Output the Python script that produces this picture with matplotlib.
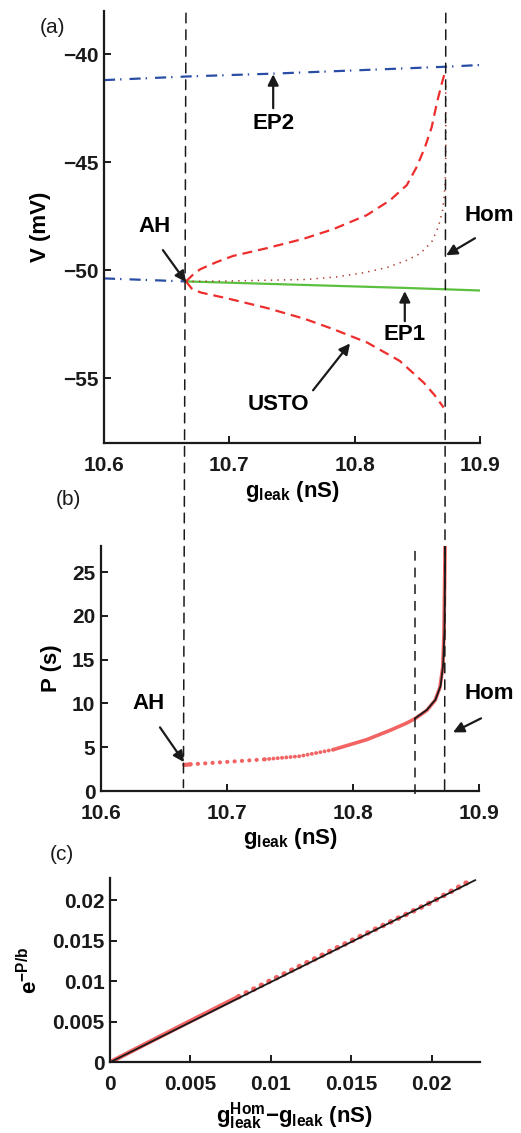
import matplotlib
matplotlib.use('Agg')
import matplotlib.pyplot as plt
from matplotlib.patches import ConnectionPatch

plt.rcParams['font.family'] = ['Liberation Sans', 'DejaVu Sans']
plt.rcParams['font.weight'] = 'bold'
plt.rcParams['mathtext.fontset'] = 'custom'
plt.rcParams['mathtext.rm'] = 'Liberation Sans:bold'
plt.rcParams['mathtext.it'] = 'Liberation Sans:bold'
plt.rcParams['mathtext.bf'] = 'Liberation Sans:bold'
plt.rcParams['lines.scale_dashes'] = False

# bifurcation values (nS)
g_ah = 10.6654
g_hom = 10.8727
g_fit = 10.849

# panel (a): branches of the bifurcation diagram
ep2_g = [10.60, 10.667, 10.735, 10.80, 10.873, 10.90]
ep2_v = [-41.2, -41.03, -40.9, -40.75, -40.58, -40.5]

ep_low_g = [10.60, 10.6654]
ep_low_v = [-50.38, -50.52]

ep1_g = [10.6654, 10.84, 10.90]
ep1_v = [-50.52, -50.82, -50.94]

usto_up_g = [10.6654, 10.672, 10.677, 10.690, 10.703, 10.730, 10.759,
             10.783, 10.8097, 10.8283, 10.8416, 10.8495, 10.8562, 10.8615,
             10.8655, 10.8695, 10.8714]
usto_up_v = [-50.52, -50.15, -49.95, -49.62, -49.34, -48.98, -48.55,
             -48.1, -47.45, -46.76, -46.06, -45.22, -44.29, -43.37,
             -42.28, -41.36, -40.97]

usto_lo_g = [10.6654, 10.670, 10.677, 10.698, 10.730, 10.760, 10.783,
             10.810, 10.836, 10.855, 10.864, 10.871]
usto_lo_v = [-50.52, -50.85, -51.03, -51.30, -51.75, -52.25, -52.73,
             -53.35, -54.2, -55.2, -55.8, -56.36]

mean_g = [10.6654, 10.70, 10.7604, 10.7857, 10.807, 10.8256, 10.8416,
          10.8522, 10.8615, 10.8668, 10.8702, 10.8721, 10.8727, 10.8727]
mean_v = [-50.52, -50.5, -50.43, -50.31, -50.12, -49.88, -49.54,
          -49.23, -48.69, -47.99, -47.22, -46.14, -45.0, -41.44]

# panel (b): period of the oscillation
per_g_start = [10.6659, 10.6675, 10.671]
per_p_start = [3.0, 3.0, 3.05]
per_g_sparse = [10.671, 10.70, 10.73]
per_p_sparse = [3.05, 3.33, 3.62]
per_g_dense = [10.73, 10.7579, 10.7844]
per_p_dense = [3.62, 3.98, 4.73]
per_g_end = [10.7844, 10.8109, 10.8294, 10.8426, 10.8492, 10.8585, 10.8651,
             10.869, 10.8712, 10.8722, 10.8728, 10.873]
per_p_end = [4.73, 5.87, 6.93, 7.76, 8.26, 9.2, 10.34,
             11.85, 14.1, 17.9, 24.7, 27.95]

fit_g = [10.8492, 10.8585, 10.8655, 10.8695, 10.8716, 10.8726, 10.8730,
         10.8731]
fit_p = [8.3, 9.25, 10.45, 12.0, 14.5, 18.5, 24.5, 28.0]

# panel (c): linearised period
c_dense_x = [0.0, 0.002, 0.005, 0.008]
c_dense_y = [0.0, 0.00205, 0.0051, 0.0081]
c_dot_x = [0.008, 0.01, 0.015, 0.02, 0.0222]
c_dot_y = [0.0081, 0.0101, 0.0150, 0.0198, 0.0222]
c_fit_x = [0.0, 0.0227]
c_fit_y = [0.0, 0.0225]

blue = '#2a4ea6'
red = '#ee2d2d'
green = '#5bbf3f'
brown = '#a83a2e'
pink = '#f26464'

dash_black = (0, (7, 5))
arrow = dict(arrowstyle='-|>', color='#1a1a1a', lw=1.6,
             mutation_scale=16, shrinkA=0, shrinkB=0)
fs = 15


def style_axes(ax):
    for s in ['top', 'right']:
        ax.spines[s].set_visible(False)
    for s in ['left', 'bottom']:
        ax.spines[s].set_linewidth(1.6)
        ax.spines[s].set_color('#1a1a1a')
    ax.tick_params(direction='in', length=5, width=1.4, labelsize=fs,
                   colors='#1a1a1a')
    ax.tick_params(axis='x', pad=9)
    ax.tick_params(axis='y', pad=4)
    for lab in ax.get_xticklabels() + ax.get_yticklabels():
        lab.set_fontweight('bold')


fig = plt.figure(figsize=(5.21, 11.33), dpi=100)
ax_a = fig.add_axes([0.1996, 0.6090, 0.7217, 0.3813])
ax_b = fig.add_axes([0.1939, 0.3018, 0.7255, 0.2165])
ax_c = fig.add_axes([0.2111, 0.0624, 0.7102, 0.1629])

# ----- (a)
ax_a.plot(ep2_g, ep2_v, color=blue, lw=1.6, ls=(0, (8, 3.6, 1, 5.8)))
ax_a.plot(ep_low_g, ep_low_v, color=blue, lw=1.6, ls=(0, (8, 3.6, 1, 5.8)))
ax_a.plot(ep1_g, ep1_v, color=green, lw=1.6)
ax_a.plot(usto_up_g, usto_up_v, color=red, lw=1.6, ls=(0, (7.2, 4.3)))
ax_a.plot(usto_lo_g, usto_lo_v, color=red, lw=1.6, ls=(0, (7.2, 4.3)))
ax_a.plot(mean_g, mean_v, color=brown, lw=1.1, ls=(0, (1, 3.7)))
ax_a.set_xlim(10.6, 10.9)
ax_a.set_ylim(-58, -38)
ax_a.set_xticks([10.6, 10.7, 10.8, 10.9])
ax_a.set_yticks([-55, -50, -45, -40])
style_axes(ax_a)
ax_a.set_ylabel('V (mV)', fontsize=16, fontweight='bold', va='center')
ax_a.yaxis.set_label_coords(-0.17, 0.5)
ax_a.set_xlabel(r'$\mathrm{g_{leak}}$ (nS)', fontsize=16, fontweight='bold',
                va='center')
ax_a.xaxis.set_label_coords(0.5, -0.112)

ax_a.annotate('', xy=(10.735, -40.93), xytext=(10.735, -42.5), arrowprops=arrow)
ax_a.text(10.735, -43.2, 'EP2', fontsize=16, ha='center', va='center')
ax_a.annotate('', xy=(g_ah, -50.55), xytext=(10.647, -49.07), arrowprops=arrow)
ax_a.text(10.640, -47.96, 'AH', fontsize=16, ha='center', va='center')
ax_a.annotate('', xy=(10.873, -49.31), xytext=(10.896, -48.52),
              arrowprops=arrow, annotation_clip=False)
ax_a.text(10.907, -47.45, 'Hom', fontsize=16, ha='center', va='center')
ax_a.annotate('', xy=(10.840, -50.97), xytext=(10.840, -52.36), arrowprops=arrow)
ax_a.text(10.840, -53.0, 'EP1', fontsize=16, ha='center', va='center')
ax_a.annotate('', xy=(10.7963, -53.39), xytext=(10.7668, -55.56),
              arrowprops=arrow)
ax_a.text(10.7389, -56.2, 'USTO', fontsize=16, ha='center', va='center')

# ----- (b)
ax_b.plot(per_g_start, per_p_start, color=pink, lw=3, solid_capstyle='round')
ax_b.plot(per_g_sparse, per_p_sparse, color=pink, lw=3, ls=(0, (0.1, 5.2)),
          dash_capstyle='round')
ax_b.plot(per_g_dense, per_p_dense, color=pink, lw=2.8, ls=(0, (0.1, 3.0)),
          dash_capstyle='round')
ax_b.plot(per_g_end, per_p_end, color=pink, lw=2.6, solid_capstyle='round')
ax_b.plot(fit_g, fit_p, color='#1a1a1a', lw=1.3)
ax_b.plot([g_fit, g_fit], [-0.3, 28.2], color='#1a1a1a', lw=1.1,
          ls=dash_black, clip_on=False)
ax_b.set_xlim(10.6, 10.9)
ax_b.set_ylim(0, 28)
ax_b.set_xticks([10.6, 10.7, 10.8, 10.9])
ax_b.set_yticks([0, 5, 10, 15, 20, 25])
style_axes(ax_b)
ax_b.set_ylabel('P (s)', fontsize=16, fontweight='bold', va='center')
ax_b.yaxis.set_label_coords(-0.132, 0.5)
ax_b.set_xlabel(r'$\mathrm{g_{leak}}$ (nS)', fontsize=16, fontweight='bold',
                va='center')
ax_b.xaxis.set_label_coords(0.5, -0.195)

ax_b.annotate('', xy=(10.6659, 3.3), xytext=(10.6468, 7.27), arrowprops=arrow)
ax_b.text(10.638, 10.0, 'AH', fontsize=16, ha='center', va='center')
ax_b.annotate('', xy=(10.8794, 6.7), xytext=(10.9016, 8.3),
              arrowprops=arrow, annotation_clip=False)
ax_b.text(10.908, 11.1, 'Hom', fontsize=16, ha='center', va='center')

# dashed lines joining (a) and (b)
for g, yb in [(g_ah, 0.4), (g_hom, -0.3)]:
    con = ConnectionPatch(xyA=(g, -38.1), coordsA=ax_a.transData,
                          xyB=(g, yb), coordsB=ax_b.transData,
                          color='#1a1a1a', lw=1.1, ls=dash_black)
    fig.add_artist(con)

# ----- (c)
ax_c.plot(c_dense_x, c_dense_y, color=pink, lw=3.2, solid_capstyle='round')
ax_c.plot(c_dot_x, c_dot_y, color=pink, lw=4, ls=(0, (0.1, 6.0)),
          dash_capstyle='round')
ax_c.plot(c_fit_x, c_fit_y, color='#1a1a1a', lw=1.3)
ax_c.set_xlim(0, 0.023)
ax_c.set_ylim(0, 0.0228)
ax_c.set_xticks([0, 0.005, 0.01, 0.015, 0.02])
ax_c.set_xticklabels(['0', '0.005', '0.01', '0.015', '0.02'])
ax_c.set_yticks([0, 0.005, 0.01, 0.015, 0.02])
ax_c.set_yticklabels(['0', '0.005', '0.01', '0.015', '0.02'])
style_axes(ax_c)
ax_c.set_ylabel(r'$\mathrm{e^{-P/b}}$', fontsize=16, va='center')
ax_c.yaxis.set_label_coords(-0.216, 0.5)
ax_c.set_xlabel(r'$\mathrm{g_{leak}^{Hom}{-}g_{leak}}$ (nS)', fontsize=16,
                fontweight='bold', va='center')
ax_c.xaxis.set_label_coords(0.5, -0.29)

# panel letters
fig.text(0.1017, 0.9753, '(a)', fontsize=15, fontweight='normal',
         ha='center', va='center', color='#1a1a1a')
fig.text(0.1305, 0.5587, '(b)', fontsize=15, fontweight='normal',
         ha='center', va='center', color='#1a1a1a')
fig.text(0.119, 0.2454, '(c)', fontsize=15, fontweight='normal',
         ha='center', va='center', color='#1a1a1a')

fig.savefig('out.png', dpi=100)
